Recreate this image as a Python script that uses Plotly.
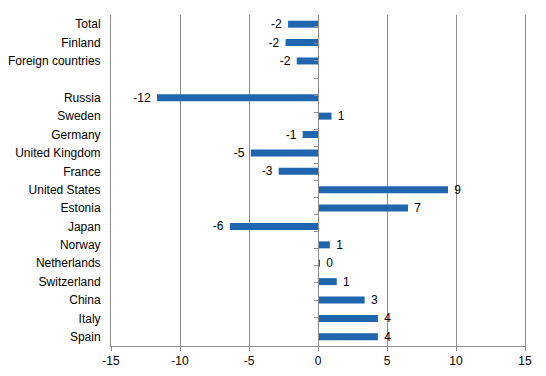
import plotly.graph_objects as go

categories = ["Total", "Finland", "Foreign countries", " ", "Russia", "Sweden", "Germany",
              "United Kingdom", "France", "United States", "Estonia", "Japan", "Norway",
              "Netherlands", "Switzerland", "China", "Italy", "Spain"]
values = [-2.17, -2.35, -1.54, None, -11.67, 0.98, -1.11, -4.87, -2.85, 9.42, 6.52, -6.39,
          0.86, 0.13, 1.36, 3.38, 4.34, 4.34]
x_ticks = [-15, -10, -5, 0, 5, 10, 15]

NB = "\u00a0"
labels = []
for v in values:
    if v is None:
        labels.append("")
    elif v < 0:
        labels.append(f"{v:.0f}" + NB)
    else:
        labels.append(NB + f"{v:.0f}")

bar_color = "#1f66ae"
grid_color = "#8c8c8c"
font = dict(family="Liberation Sans, Arial, sans-serif", size=12, color="#000000")

fig = go.Figure()
fig.add_trace(go.Bar(
    x=values, y=categories, orientation="h",
    marker=dict(color=bar_color, line=dict(width=0)),
    text=labels, textposition="outside", cliponaxis=False, constraintext="none",
    textfont=font, hoverinfo="skip",
))
fig.add_trace(go.Scatter(
    x=[0] * len(categories), y=categories, yaxis="y2", mode="markers",
    marker=dict(opacity=0), hoverinfo="skip", showlegend=False,
))

fig.update_layout(
    width=546, height=376,
    margin=dict(l=111, r=21, t=15, b=30, autoexpand=False),
    paper_bgcolor="white", plot_bgcolor="white",
    showlegend=False, bargap=0.62, font=font,
    xaxis=dict(
        range=[-15, 15], tickvals=x_ticks, ticktext=[str(t) for t in x_ticks],
        showgrid=True, gridcolor=grid_color, gridwidth=1, automargin=False,
        zeroline=False, showline=True, linecolor=grid_color, linewidth=1,
        ticks="outside", ticklen=4, tickcolor=grid_color, tickfont=font,
    ),
    yaxis=dict(
        type="category", categoryorder="array", categoryarray=categories,
        autorange="reversed", showgrid=False, zeroline=False,
        showline=True, mirror=True, linecolor=grid_color, linewidth=1,
        ticks="", ticklabelstandoff=7, tickfont=font, automargin=False,
    ),
    yaxis2=dict(
        type="category", categoryorder="array", categoryarray=categories,
        autorange="reversed", overlaying="y", anchor="free", position=0.5, side="left",
        showgrid=False, zeroline=False, showline=True, linecolor=grid_color, linewidth=1,
        ticks="outside", tickson="boundaries", ticklen=4, tickcolor=grid_color,
        showticklabels=False, automargin=False,
    ),
)

fig.write_html("out.html", config={"displayModeBar": False},
               post_script="document.body.style.margin='0';")
